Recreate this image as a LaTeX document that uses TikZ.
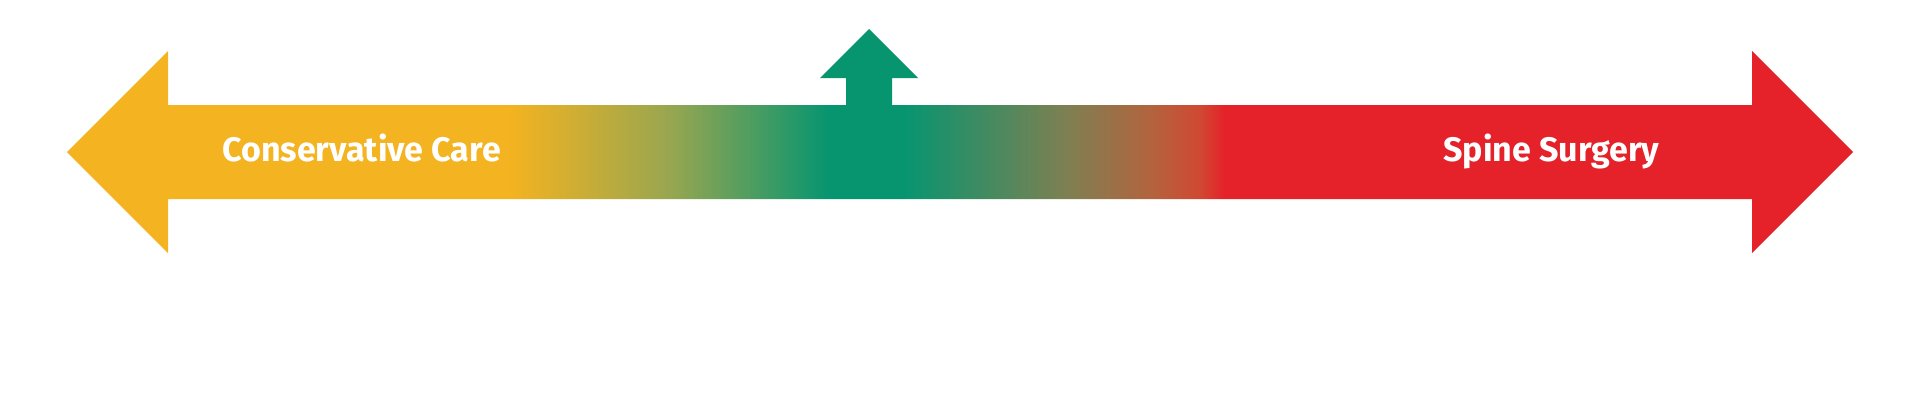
\documentclass[tikz,border=0pt]{standalone}
\usepackage{fontspec}
\setmainfont{Fira Sans}
\definecolor{cyellow}{RGB}{244,179,32}
\definecolor{cgreen}{RGB}{7,149,112}
\definecolor{cred}{RGB}{229,33,41}
\definecolor{cmidyg}{RGB}{152,166,80}
\definecolor{cmidgr}{RGB}{125,128,82}
\definecolor{cbrown}{RGB}{178,100,62}
\definecolor{corange}{RGB}{208,72,50}
\pgfdeclarehorizontalshading{spectrum}{100bp}{color(0bp)=(cyellow); color(37.40bp)=(cyellow); color(41.88bp)=(cmidyg); color(46.31bp)=(cgreen); color(48.46bp)=(cgreen); color(52.94bp)=(cmidgr); color(55.32bp)=(cbrown); color(56.72bp)=(corange); color(57.42bp)=(cred); color(100bp)=(cred)}
\tikzset{
  label text/.style={text=white, font=\fontsize{17}{19}\selectfont\bfseries, inner sep=0pt, anchor=base west}
}
\begin{document}
\begin{tikzpicture}[x=0.5pt,y=-0.5pt]
\useasboundingbox[fill=white] (0,0) rectangle (1920,408);
% double arrow with colour gradient
\path[shading=spectrum] (67,152) -- (168,51) -- (168,105) -- (1752,105) -- (1752,51) -- (1853,152) -- (1752,253) -- (1752,199) -- (168,199) -- (168,253) -- cycle;
% up arrow
\fill[cgreen] (869,29) -- (918,78) -- (892,78) -- (892,106) -- (846,106) -- (846,78) -- (820,78) -- cycle;
% labels
\node[label text] (cc) at (222,161) {Conservative Care};
\node[label text] (ss) at (1443,161) {Spine Surgery};
\end{tikzpicture}
\end{document}
